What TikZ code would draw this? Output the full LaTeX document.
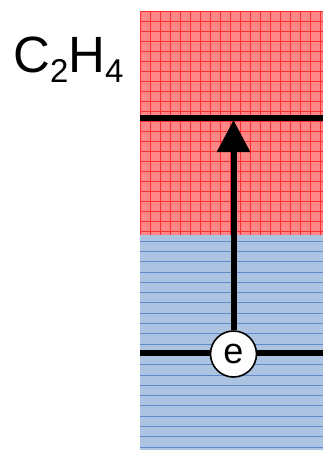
\documentclass[tikz,border=0pt]{standalone}
\usepackage{fontspec}
\setmainfont{Liberation Sans}
\usetikzlibrary{arrows.meta}
\definecolor{redfill}{RGB}{255,135,135}
\definecolor{redgrid}{RGB}{255,45,45}
\definecolor{bluefill}{RGB}{172,196,226}
\definecolor{blueline}{RGB}{95,140,200}
\tikzset{level/.style={line width=6pt,black},
  trans/.style={line width=6pt,-{Triangle[width=32pt,length=32pt]}},
  elec/.style={circle,draw,line width=1.6pt,fill=white,minimum size=46pt,inner sep=0pt,font=\fontsize{36pt}{38pt}\selectfont}}
\begin{document}
\begin{tikzpicture}[x=1pt,y=-1pt]
\useasboundingbox (0,0) rectangle (323,450);
% red region
\fill[redfill] (140,11) rectangle (323,235);
\begin{scope}
\clip (140,11) rectangle (323,235);
\foreach \i in {0,...,19} {\draw[redgrid,line width=1.2pt] (140+10*\i+0.5,11) -- (140+10*\i+0.5,235);}
\foreach \j in {0,...,23} {\draw[redgrid,line width=1.2pt] (140,11+10*\j+0.5) -- (323,11+10*\j+0.5);}
\end{scope}
% blue region
\fill[bluefill] (140,235) rectangle (323,450);
\begin{scope}
\clip (140,235) rectangle (323,450);
\foreach \j in {0,...,21} {\draw[blueline,line width=0.8pt] (140,241+10.3*\j) -- (323,241+10.3*\j);}
\end{scope}
\node[font=\fontsize{51pt}{53pt}\selectfont,anchor=base west,inner sep=0pt] (mol) at (13,72) {C\raisebox{-0.2em}{\fontsize{33pt}{35pt}\selectfont 2}H\raisebox{-0.2em}{\fontsize{33pt}{35pt}\selectfont 4}};
\coordinate (t0) at (140,118);
\coordinate (t1) at (323,118);
\coordinate (b0) at (140,353);
\coordinate (b1) at (323,353);
\draw[level] (t0) -- (t1);
\draw[level] (b0) -- (b1);
\node[elec] (e) at (233.5,354) {e};
\coordinate (tip) at (233.5,120);
\draw[trans] (e.north) -- (tip);
\end{tikzpicture}
\end{document}
